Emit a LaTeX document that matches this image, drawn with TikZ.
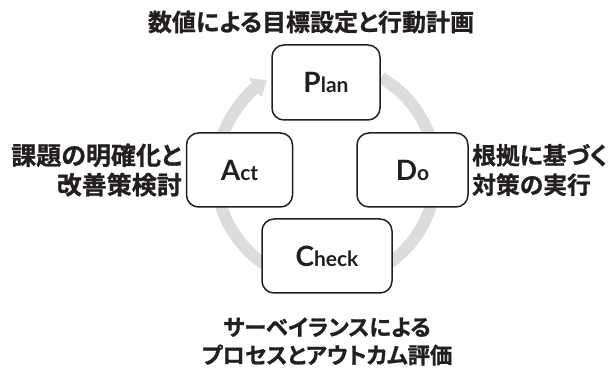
\documentclass[tikz,border=0pt]{standalone}
\usepackage{fontspec}
\usetikzlibrary{arrows.meta}
\newfontfamily\jpfont{Noto Sans CJK JP Bold}[RawFeature=+palt, FakeBold=1]
\newfontfamily\labfont{Lato}
\definecolor{ringgray}{RGB}{219,220,222}
\definecolor{boxline}{RGB}{35,31,32}
\newcommand{\pdcaLabel}[2]{{\fontsize{28}{30}\selectfont #1}{\fontsize{21}{30}\selectfont #2}}
\tikzset{
  pdcabox/.style={draw=boxline, line width=1.5pt, rounded corners=12pt, fill=white,
    inner sep=0pt, font=\labfont\bfseries, text=boxline},
  jptext/.style={font=\jpfont\fontsize{24}{29.5}\selectfont, text=boxline, inner sep=0pt},
  lefttext/.style={jptext, font=\jpfont\fontsize{25}{29.5}\selectfont},
  righttext/.style={jptext, font=\jpfont\fontsize{23.8}{29.5}\selectfont},
  bottomtext/.style={jptext, font=\jpfont\fontsize{22.3}{28}\selectfont},
}
\begin{document}
\begin{tikzpicture}[x=1pt,y=1pt]
\useasboundingbox (0,0) rectangle (616,367);
\coordinate (ringc) at (326,194);
\draw[ringgray, line width=12pt, -{Triangle[width=22pt,length=14pt]}]
  ([shift={(60:110)}]ringc) arc[start angle=60, end angle=-237.5, radius=110];
\node[pdcabox, minimum width=108pt, minimum height=75pt] (plan) at (326,284.5) {\pdcaLabel{P}{lan}};
\node[pdcabox, minimum width=106pt, minimum height=74pt] (act) at (239.5,197) {\pdcaLabel{A}{ct}};
\node[pdcabox, minimum width=111pt, minimum height=74pt] (do) at (412.5,197) {\pdcaLabel{D}{o}};
\node[pdcabox, minimum width=130pt, minimum height=74pt] (check) at (327,111) {\pdcaLabel{C}{heck}};
\node[jptext] (title) at (311,345) {数値による目標設定と行動計画};
\node[lefttext, align=right, anchor=east] (acttext) at (182,197) {課題の明確化と\\改善策検討};
\node[righttext, align=left, anchor=west] (dotext) at (472,197) {根拠に基づく\\対策の実行};
\node[bottomtext, align=center] (checktext) at (327,25.5) {サーベイランスによる\\プロセスとアウトカム評価};
\end{tikzpicture}
\end{document}
